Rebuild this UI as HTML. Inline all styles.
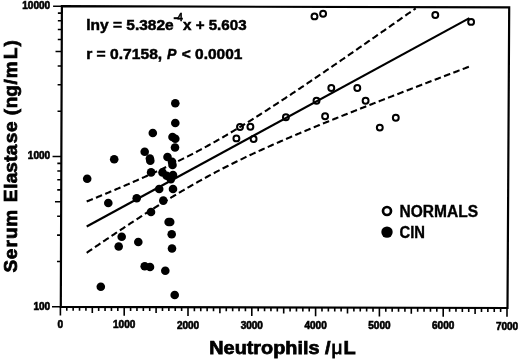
<!DOCTYPE html>
<html><head><meta charset="utf-8"><style>
html,body{margin:0;padding:0;background:#fff;width:520px;height:360px;overflow:hidden}
svg{display:block}
text{font-family:"Liberation Sans",sans-serif;fill:#000}
</style></head><body>
<svg width="520" height="360" viewBox="0 0 520 360"><defs><filter id="b" x="0" y="0" width="100%" height="100%"><feGaussianBlur stdDeviation="0.45"/></filter></defs><g filter="url(#b)"><rect width="520" height="360" fill="#fff"/><path d="M61.9,6.2 L509.2,7.45 L507.5,308.0 L60.8,306.8 Z" fill="none" stroke="#000" stroke-width="2.2" stroke-linejoin="miter"/>
<path d="M60.40,306.80v8.8 M66.78,306.82v4.0 M73.16,306.83v4.0 M79.54,306.85v4.0 M85.92,306.87v4.0 M92.30,306.88v6.0 M98.68,306.90v4.0 M105.06,306.92v4.0 M111.44,306.94v4.0 M117.82,306.95v4.0 M124.20,306.97v8.8 M130.58,306.99v4.0 M136.96,307.00v4.0 M143.34,307.02v4.0 M149.72,307.04v4.0 M156.10,307.06v6.0 M162.48,307.07v4.0 M168.86,307.09v4.0 M175.24,307.11v4.0 M181.62,307.12v4.0 M188.00,307.14v8.8 M194.38,307.16v4.0 M200.76,307.18v4.0 M207.14,307.19v4.0 M213.52,307.21v4.0 M219.90,307.23v6.0 M226.28,307.24v4.0 M232.66,307.26v4.0 M239.04,307.28v4.0 M245.42,307.30v4.0 M251.80,307.31v8.8 M258.18,307.33v4.0 M264.56,307.35v4.0 M270.94,307.36v4.0 M277.32,307.38v4.0 M283.70,307.40v6.0 M290.08,307.42v4.0 M296.46,307.43v4.0 M302.84,307.45v4.0 M309.22,307.47v4.0 M315.60,307.48v8.8 M321.98,307.50v4.0 M328.36,307.52v4.0 M334.74,307.54v4.0 M341.12,307.55v4.0 M347.50,307.57v6.0 M353.88,307.59v4.0 M360.26,307.60v4.0 M366.64,307.62v4.0 M373.02,307.64v4.0 M379.40,307.66v8.8 M385.78,307.67v4.0 M392.16,307.69v4.0 M398.54,307.71v4.0 M404.92,307.72v4.0 M411.30,307.74v6.0 M417.68,307.76v4.0 M424.06,307.78v4.0 M430.44,307.79v4.0 M436.82,307.81v4.0 M443.20,307.83v8.8 M449.58,307.84v4.0 M455.96,307.86v4.0 M462.34,307.88v4.0 M468.72,307.90v4.0 M475.10,307.91v6.0 M481.48,307.93v4.0 M487.86,307.95v4.0 M494.24,307.96v4.0 M500.62,307.98v4.0 M507.00,308.00v8.8 M60.80,306.80h-8.8 M60.97,261.56h-4.0 M61.06,235.09h-4.0 M61.13,216.31h-4.0 M61.18,201.74h-6.2 M61.23,189.84h-4.0 M61.26,179.78h-4.0 M61.30,171.07h-4.0 M61.32,163.38h-4.0 M61.35,156.50h-8.8 M61.52,111.26h-4.0 M61.61,84.79h-4.0 M61.68,66.01h-4.0 M61.73,51.44h-6.2 M61.78,39.54h-4.0 M61.81,29.48h-4.0 M61.85,20.77h-4.0 M61.87,13.08h-4.0 M61.90,6.20h-8.8" stroke="#000" stroke-width="1.6" fill="none"/>
<text x="50.1" y="9.0" font-family="Liberation Sans" font-weight="bold" font-size="10" text-anchor="end" stroke="#000" stroke-width="0.6">10000</text>
<text x="50.1" y="159.3" font-family="Liberation Sans" font-weight="bold" font-size="10" text-anchor="end" stroke="#000" stroke-width="0.6">1000</text>
<text x="50.1" y="310.0" font-family="Liberation Sans" font-weight="bold" font-size="10" text-anchor="end" stroke="#000" stroke-width="0.6">100</text>
<text x="60.40" y="328.30" font-family="Liberation Sans" font-weight="bold" font-size="10" text-anchor="middle" stroke="#000" stroke-width="0.6">0</text>
<text x="124.20" y="328.47" font-family="Liberation Sans" font-weight="bold" font-size="10" text-anchor="middle" stroke="#000" stroke-width="0.6">1000</text>
<text x="188.00" y="328.64" font-family="Liberation Sans" font-weight="bold" font-size="10" text-anchor="middle" stroke="#000" stroke-width="0.6">2000</text>
<text x="251.80" y="328.81" font-family="Liberation Sans" font-weight="bold" font-size="10" text-anchor="middle" stroke="#000" stroke-width="0.6">3000</text>
<text x="315.60" y="328.98" font-family="Liberation Sans" font-weight="bold" font-size="10" text-anchor="middle" stroke="#000" stroke-width="0.6">4000</text>
<text x="379.40" y="329.16" font-family="Liberation Sans" font-weight="bold" font-size="10" text-anchor="middle" stroke="#000" stroke-width="0.6">5000</text>
<text x="443.20" y="329.33" font-family="Liberation Sans" font-weight="bold" font-size="10" text-anchor="middle" stroke="#000" stroke-width="0.6">6000</text>
<text x="507.00" y="329.50" font-family="Liberation Sans" font-weight="bold" font-size="10" text-anchor="middle" stroke="#000" stroke-width="0.6">7000</text>
<text x="-115.79 -102.63 -90.93 -82.47 -70.23 -53.34 -45.55 -32.13 -26.77 -16.13 -5.21 1.28 13.32 24.57 35.14 41.32 48.26 59.94 72.01 78.32 97.25 110.1" y="0" transform="translate(17,156.6) rotate(-90)" font-family="Liberation Sans" font-weight="bold" font-size="19" stroke="#000" stroke-width="0.75">Serum Elastase (ng/mL)</text>
<text x="209.3" y="354" font-family="Liberation Sans" font-weight="bold" font-size="19" stroke="#000" stroke-width="0.75" textLength="121.2" lengthAdjust="spacingAndGlyphs">Neutrophils /</text>
<text x="331.5" y="354" font-family="Liberation Serif" font-size="19" stroke="#000" stroke-width="0.85">&#956;</text>
<text x="343.4" y="354" font-family="Liberation Sans" font-weight="bold" font-size="19" stroke="#000" stroke-width="0.75" textLength="12.2" lengthAdjust="spacingAndGlyphs">L</text>
<text x="86.2" y="30.2" font-family="Liberation Sans" font-weight="bold" stroke="#000" stroke-width="0.5" font-size="15" textLength="87.5" lengthAdjust="spacingAndGlyphs">lny = 5.382e</text>
<rect x="173.7" y="17.2" width="5" height="2"/>
<text x="177.4" y="21.1" font-family="Liberation Sans" font-weight="bold" stroke="#000" stroke-width="0.5" font-size="10.8" textLength="5.2" lengthAdjust="spacingAndGlyphs">4</text>
<text x="183.0" y="30.2" font-family="Liberation Sans" font-weight="bold" stroke="#000" stroke-width="0.5" font-size="15" textLength="63.6" lengthAdjust="spacingAndGlyphs">x + 5.603</text>
<text x="86.2" y="58.8" font-family="Liberation Sans" font-weight="bold" stroke="#000" stroke-width="0.5" font-size="15" textLength="76" lengthAdjust="spacingAndGlyphs">r = 0.7158,</text>
<text x="166.9" y="58.8" font-family="Liberation Sans" font-weight="bold" stroke="#000" stroke-width="0.5" font-size="15" font-style="italic" textLength="9.4" lengthAdjust="spacingAndGlyphs">P</text>
<text x="181.8" y="58.8" font-family="Liberation Sans" font-weight="bold" stroke="#000" stroke-width="0.5" font-size="15" textLength="60.6" lengthAdjust="spacingAndGlyphs">&lt; 0.0001</text>
<circle cx="387" cy="211" r="4" fill="none" stroke="#000" stroke-width="2.7"/>
<circle cx="387" cy="232.1" r="5.7" fill="#000"/>
<text x="399.5" y="216.7" font-family="Liberation Sans" font-weight="bold" font-size="15.6" stroke="#000" stroke-width="0.35" textLength="78.5" lengthAdjust="spacingAndGlyphs">NORMALS</text>
<text x="399.5" y="237.8" font-family="Liberation Sans" font-weight="bold" font-size="15.6" stroke="#000" stroke-width="0.35" textLength="25.5" lengthAdjust="spacingAndGlyphs">CIN</text>
<line x1="86.7" y1="226.55" x2="469.4" y2="18.1" stroke="#000" stroke-width="2.2"/>
<polyline points="86.70,201.50 87.70,201.09 88.70,200.69 89.70,200.28 90.70,199.87 91.70,199.46 92.70,199.05 93.70,198.64 94.70,198.23 95.70,197.82 96.70,197.41 97.70,197.00 98.70,196.58 99.70,196.17 100.70,195.76 101.70,195.34 102.70,194.93 103.70,194.51 104.70,194.10 105.70,193.68 106.70,193.27 107.70,192.85 108.70,192.43 109.70,192.01 110.70,191.59 111.70,191.17 112.70,190.75 113.70,190.33 114.70,189.91 115.70,189.49 116.70,189.07 117.70,188.64 118.70,188.22 119.70,187.79 120.70,187.37 121.70,186.94 122.70,186.52 123.70,186.09 124.70,185.66 125.70,185.23 126.70,184.80 127.70,184.37 128.70,183.94 129.70,183.50 130.70,183.07 131.70,182.64 132.70,182.20 133.70,181.77 134.70,181.33 135.70,180.89 136.70,180.45 137.70,180.01 138.70,179.57 139.70,179.13 140.70,178.69 141.70,178.24 142.70,177.80 143.70,177.35 144.70,176.90 145.70,176.46 146.70,176.01 147.70,175.56 148.70,175.10 149.70,174.65 150.70,174.20 151.70,173.74 152.70,173.29 153.70,172.83 154.70,172.37 155.70,171.91 156.70,171.45 157.70,170.99 158.70,170.52 159.70,170.06 160.70,169.59 161.70,169.12 162.70,168.65 163.70,168.18 164.70,167.71 165.70,167.23 166.70,166.76 167.70,166.28 168.70,165.80 169.70,165.32 170.70,164.84 171.70,164.36 172.70,163.87 173.70,163.39 174.70,162.90 175.70,162.41 176.70,161.92 177.70,161.42 178.70,160.93 179.70,160.43 180.70,159.93 181.70,159.43 182.70,158.93 183.70,158.43 184.70,157.92 185.70,157.42 186.70,156.91 187.70,156.40 188.70,155.88 189.70,155.37 190.70,154.85 191.70,154.33 192.70,153.81 193.70,153.29 194.70,152.77 195.70,152.24 196.70,151.71 197.70,151.18 198.70,150.65 199.70,150.12 200.70,149.58 201.70,149.04 202.70,148.50 203.70,147.96 204.70,147.42 205.70,146.87 206.70,146.32 207.70,145.77 208.70,145.22 209.70,144.67 210.70,144.11 211.70,143.56 212.70,143.00 213.70,142.44 214.70,141.87 215.70,141.31 216.70,140.74 217.70,140.17 218.70,139.60 219.70,139.03 220.70,138.45 221.70,137.88 222.70,137.30 223.70,136.72 224.70,136.14 225.70,135.55 226.70,134.97 227.70,134.38 228.70,133.79 229.70,133.20 230.70,132.61 231.70,132.01 232.70,131.41 233.70,130.82 234.70,130.22 235.70,129.62 236.70,129.01 237.70,128.41 238.70,127.80 239.70,127.19 240.70,126.59 241.70,125.97 242.70,125.36 243.70,124.75 244.70,124.13 245.70,123.52 246.70,122.90 247.70,122.28 248.70,121.66 249.70,121.03 250.70,120.41 251.70,119.79 252.70,119.16 253.70,118.53 254.70,117.90 255.70,117.27 256.70,116.64 257.70,116.01 258.70,115.37 259.70,114.74 260.70,114.10 261.70,113.46 262.70,112.82 263.70,112.18 264.70,111.54 265.70,110.90 266.70,110.26 267.70,109.61 268.70,108.97 269.70,108.32 270.70,107.67 271.70,107.02 272.70,106.37 273.70,105.72 274.70,105.07 275.70,104.42 276.70,103.77 277.70,103.11 278.70,102.46 279.70,101.80 280.70,101.15 281.70,100.49 282.70,99.83 283.70,99.17 284.70,98.51 285.70,97.85 286.70,97.19 287.70,96.53 288.70,95.86 289.70,95.20 290.70,94.53 291.70,93.87 292.70,93.20 293.70,92.54 294.70,91.87 295.70,91.20 296.70,90.53 297.70,89.86 298.70,89.19 299.70,88.52 300.70,87.85 301.70,87.18 302.70,86.51 303.70,85.84 304.70,85.16 305.70,84.49 306.70,83.81 307.70,83.14 308.70,82.46 309.70,81.79 310.70,81.11 311.70,80.43 312.70,79.76 313.70,79.08 314.70,78.40 315.70,77.72 316.70,77.04 317.70,76.36 318.70,75.68 319.70,75.00 320.70,74.32 321.70,73.64 322.70,72.96 323.70,72.27 324.70,71.59 325.70,70.91 326.70,70.22 327.70,69.54 328.70,68.85 329.70,68.17 330.70,67.48 331.70,66.80 332.70,66.11 333.70,65.43 334.70,64.74 335.70,64.05 336.70,63.37 337.70,62.68 338.70,61.99 339.70,61.30 340.70,60.61 341.70,59.93 342.70,59.24 343.70,58.55 344.70,57.86 345.70,57.17 346.70,56.48 347.70,55.79 348.70,55.10 349.70,54.40 350.70,53.71 351.70,53.02 352.70,52.33 353.70,51.64 354.70,50.94 355.70,50.25 356.70,49.56 357.70,48.87 358.70,48.17 359.70,47.48 360.70,46.78 361.70,46.09 362.70,45.40 363.70,44.70 364.70,44.01 365.70,43.31 366.70,42.62 367.70,41.92 368.70,41.23 369.70,40.53 370.70,39.83 371.70,39.14 372.70,38.44 373.70,37.75 374.70,37.05 375.70,36.35 376.70,35.65 377.70,34.96 378.70,34.26 379.70,33.56 380.70,32.86 381.70,32.17 382.70,31.47 383.70,30.77 384.70,30.07 385.70,29.37 386.70,28.67 387.70,27.98 388.70,27.28 389.70,26.58 390.70,25.88 391.70,25.18 392.70,24.48 393.70,23.78 394.70,23.08 395.70,22.38 396.70,21.68 397.70,20.98 398.70,20.28 399.70,19.58 400.70,18.88 401.70,18.17 402.70,17.47 403.70,16.77 404.70,16.07 405.70,15.37 406.70,14.67 407.70,13.97 408.70,13.26 409.70,12.56 410.70,11.86 411.70,11.16 412.70,10.46 413.70,9.75 414.70,9.05 415.70,8.35" fill="none" stroke="#000" stroke-width="2.1" stroke-dasharray="6.6 3.4"/>
<polyline points="86.70,252.79 87.70,252.11 88.70,251.42 89.70,250.74 90.70,250.06 91.70,249.38 92.70,248.70 93.70,248.01 94.70,247.33 95.70,246.65 96.70,245.98 97.70,245.30 98.70,244.62 99.70,243.94 100.70,243.26 101.70,242.59 102.70,241.91 103.70,241.23 104.70,240.56 105.70,239.88 106.70,239.21 107.70,238.54 108.70,237.86 109.70,237.19 110.70,236.52 111.70,235.85 112.70,235.18 113.70,234.51 114.70,233.84 115.70,233.17 116.70,232.50 117.70,231.83 118.70,231.17 119.70,230.50 120.70,229.84 121.70,229.17 122.70,228.51 123.70,227.85 124.70,227.19 125.70,226.52 126.70,225.86 127.70,225.20 128.70,224.55 129.70,223.89 130.70,223.23 131.70,222.57 132.70,221.92 133.70,221.26 134.70,220.61 135.70,219.96 136.70,219.31 137.70,218.66 138.70,218.01 139.70,217.36 140.70,216.71 141.70,216.06 142.70,215.42 143.70,214.77 144.70,214.13 145.70,213.49 146.70,212.84 147.70,212.20 148.70,211.57 149.70,210.93 150.70,210.29 151.70,209.65 152.70,209.02 153.70,208.39 154.70,207.76 155.70,207.12 156.70,206.50 157.70,205.87 158.70,205.24 159.70,204.61 160.70,203.99 161.70,203.37 162.70,202.75 163.70,202.13 164.70,201.51 165.70,200.89 166.70,200.27 167.70,199.66 168.70,199.05 169.70,198.44 170.70,197.83 171.70,197.22 172.70,196.61 173.70,196.01 174.70,195.40 175.70,194.80 176.70,194.20 177.70,193.60 178.70,193.01 179.70,192.41 180.70,191.82 181.70,191.22 182.70,190.63 183.70,190.05 184.70,189.46 185.70,188.87 186.70,188.29 187.70,187.71 188.70,187.13 189.70,186.55 190.70,185.98 191.70,185.40 192.70,184.83 193.70,184.26 194.70,183.69 195.70,183.13 196.70,182.56 197.70,182.00 198.70,181.44 199.70,180.88 200.70,180.32 201.70,179.77 202.70,179.21 203.70,178.66 204.70,178.11 205.70,177.56 206.70,177.02 207.70,176.47 208.70,175.93 209.70,175.39 210.70,174.85 211.70,174.32 212.70,173.78 213.70,173.25 214.70,172.72 215.70,172.19 216.70,171.67 217.70,171.14 218.70,170.62 219.70,170.10 220.70,169.58 221.70,169.06 222.70,168.55 223.70,168.03 224.70,167.52 225.70,167.01 226.70,166.50 227.70,166.00 228.70,165.49 229.70,164.99 230.70,164.49 231.70,163.99 232.70,163.49 233.70,163.00 234.70,162.50 235.70,162.01 236.70,161.52 237.70,161.03 238.70,160.54 239.70,160.06 240.70,159.57 241.70,159.09 242.70,158.61 243.70,158.13 244.70,157.65 245.70,157.17 246.70,156.70 247.70,156.23 248.70,155.75 249.70,155.28 250.70,154.81 251.70,154.35 252.70,153.88 253.70,153.41 254.70,152.95 255.70,152.49 256.70,152.03 257.70,151.57 258.70,151.11 259.70,150.65 260.70,150.19 261.70,149.74 262.70,149.29 263.70,148.83 264.70,148.38 265.70,147.93 266.70,147.48 267.70,147.04 268.70,146.59 269.70,146.14 270.70,145.70 271.70,145.25 272.70,144.81 273.70,144.37 274.70,143.93 275.70,143.49 276.70,143.05 277.70,142.61 278.70,142.18 279.70,141.74 280.70,141.31 281.70,140.87 282.70,140.44 283.70,140.01 284.70,139.57 285.70,139.14 286.70,138.71 287.70,138.29 288.70,137.86 289.70,137.43 290.70,137.00 291.70,136.58 292.70,136.15 293.70,135.73 294.70,135.30 295.70,134.88 296.70,134.46 297.70,134.04 298.70,133.62 299.70,133.20 300.70,132.78 301.70,132.36 302.70,131.94 303.70,131.52 304.70,131.11 305.70,130.69 306.70,130.27 307.70,129.86 308.70,129.44 309.70,129.03 310.70,128.62 311.70,128.20 312.70,127.79 313.70,127.38 314.70,126.97 315.70,126.56 316.70,126.14 317.70,125.74 318.70,125.33 319.70,124.92 320.70,124.51 321.70,124.10 322.70,123.69 323.70,123.29 324.70,122.88 325.70,122.47 326.70,122.07 327.70,121.66 328.70,121.26 329.70,120.85 330.70,120.45 331.70,120.04 332.70,119.64 333.70,119.24 334.70,118.84 335.70,118.43 336.70,118.03 337.70,117.63 338.70,117.23 339.70,116.83 340.70,116.43 341.70,116.03 342.70,115.63 343.70,115.23 344.70,114.83 345.70,114.43 346.70,114.03 347.70,113.63 348.70,113.24 349.70,112.84 350.70,112.44 351.70,112.04 352.70,111.65 353.70,111.25 354.70,110.85 355.70,110.46 356.70,110.06 357.70,109.67 358.70,109.27 359.70,108.88 360.70,108.48 361.70,108.09 362.70,107.69 363.70,107.30 364.70,106.91 365.70,106.51 366.70,106.12 367.70,105.73 368.70,105.33 369.70,104.94 370.70,104.55 371.70,104.16 372.70,103.77 373.70,103.37 374.70,102.98 375.70,102.59 376.70,102.20 377.70,101.81 378.70,101.42 379.70,101.03 380.70,100.64 381.70,100.25 382.70,99.86 383.70,99.47 384.70,99.08 385.70,98.69 386.70,98.30 387.70,97.91 388.70,97.53 389.70,97.14 390.70,96.75 391.70,96.36 392.70,95.97 393.70,95.58 394.70,95.20 395.70,94.81 396.70,94.42 397.70,94.03 398.70,93.65 399.70,93.26 400.70,92.87 401.70,92.49 402.70,92.10 403.70,91.71 404.70,91.33 405.70,90.94 406.70,90.56 407.70,90.17 408.70,89.78 409.70,89.40 410.70,89.01 411.70,88.63 412.70,88.24 413.70,87.86 414.70,87.47 415.70,87.09 416.70,86.70 417.70,86.32 418.70,85.93 419.70,85.55 420.70,85.17 421.70,84.78 422.70,84.40 423.70,84.01 424.70,83.63 425.70,83.25 426.70,82.86 427.70,82.48 428.70,82.10 429.70,81.71 430.70,81.33 431.70,80.95 432.70,80.56 433.70,80.18 434.70,79.80 435.70,79.42 436.70,79.03 437.70,78.65 438.70,78.27 439.70,77.89 440.70,77.50 441.70,77.12 442.70,76.74 443.70,76.36 444.70,75.98 445.70,75.60 446.70,75.21 447.70,74.83 448.70,74.45 449.70,74.07 450.70,73.69 451.70,73.31 452.70,72.93 453.70,72.54 454.70,72.16 455.70,71.78 456.70,71.40 457.70,71.02 458.70,70.64 459.70,70.26 460.70,69.88 461.70,69.50 462.70,69.12 463.70,68.74 464.70,68.36 465.70,67.98 466.70,67.60 467.70,67.22 468.70,66.84 469.70,66.46" fill="none" stroke="#000" stroke-width="2.1" stroke-dasharray="6.6 3.4"/>
<circle cx="175.3" cy="103.3" r="4.3" fill="#000"/>
<circle cx="175.3" cy="123" r="4.3" fill="#000"/>
<circle cx="152.8" cy="133" r="4.3" fill="#000"/>
<circle cx="172.5" cy="137" r="4.3" fill="#000"/>
<circle cx="175.3" cy="138.7" r="4.3" fill="#000"/>
<circle cx="175" cy="147.5" r="4.3" fill="#000"/>
<circle cx="144.7" cy="151.8" r="4.3" fill="#000"/>
<circle cx="149.9" cy="158.6" r="4.3" fill="#000"/>
<circle cx="150.3" cy="160.8" r="4.3" fill="#000"/>
<circle cx="167.5" cy="157" r="4.3" fill="#000"/>
<circle cx="172" cy="161.7" r="4.3" fill="#000"/>
<circle cx="172.5" cy="165" r="4.3" fill="#000"/>
<circle cx="114.2" cy="159.2" r="4.3" fill="#000"/>
<circle cx="87.2" cy="178.7" r="4.3" fill="#000"/>
<circle cx="151.1" cy="172.4" r="4.3" fill="#000"/>
<circle cx="162.5" cy="172.5" r="4.3" fill="#000"/>
<circle cx="166.7" cy="175.8" r="4.3" fill="#000"/>
<circle cx="173" cy="175" r="4.3" fill="#000"/>
<circle cx="170.8" cy="179.2" r="4.3" fill="#000"/>
<circle cx="159.2" cy="189" r="4.3" fill="#000"/>
<circle cx="173" cy="189" r="4.3" fill="#000"/>
<circle cx="136.7" cy="198.2" r="4.3" fill="#000"/>
<circle cx="163.3" cy="200.6" r="4.3" fill="#000"/>
<circle cx="108.3" cy="203" r="4.3" fill="#000"/>
<circle cx="151.0" cy="212" r="4.3" fill="#000"/>
<circle cx="168.6" cy="222" r="4.3" fill="#000"/>
<circle cx="170.2" cy="222" r="4.3" fill="#000"/>
<circle cx="171.7" cy="234.2" r="4.3" fill="#000"/>
<circle cx="138.3" cy="242" r="4.3" fill="#000"/>
<circle cx="172" cy="248.5" r="4.3" fill="#000"/>
<circle cx="121.7" cy="236.7" r="4.3" fill="#000"/>
<circle cx="118.7" cy="246.5" r="4.3" fill="#000"/>
<circle cx="144.7" cy="266.3" r="4.3" fill="#000"/>
<circle cx="150" cy="267" r="4.3" fill="#000"/>
<circle cx="165.3" cy="270.8" r="4.3" fill="#000"/>
<circle cx="100.8" cy="286.7" r="4.3" fill="#000"/>
<circle cx="174.7" cy="295" r="4.3" fill="#000"/>
<circle cx="236.4" cy="138.4" r="2.95" fill="none" stroke="#000" stroke-width="2"/>
<circle cx="240" cy="127" r="2.95" fill="none" stroke="#000" stroke-width="2"/>
<circle cx="250.4" cy="126.7" r="2.95" fill="none" stroke="#000" stroke-width="2"/>
<circle cx="253.6" cy="139" r="2.95" fill="none" stroke="#000" stroke-width="2"/>
<circle cx="285.9" cy="117.3" r="2.95" fill="none" stroke="#000" stroke-width="2"/>
<circle cx="316.5" cy="100.8" r="2.95" fill="none" stroke="#000" stroke-width="2"/>
<circle cx="325.1" cy="116.2" r="2.95" fill="none" stroke="#000" stroke-width="2"/>
<circle cx="331.3" cy="88" r="2.95" fill="none" stroke="#000" stroke-width="2"/>
<circle cx="357.3" cy="88" r="2.95" fill="none" stroke="#000" stroke-width="2"/>
<circle cx="365.6" cy="100.7" r="2.95" fill="none" stroke="#000" stroke-width="2"/>
<circle cx="379.8" cy="127.6" r="2.95" fill="none" stroke="#000" stroke-width="2"/>
<circle cx="395.8" cy="117.8" r="2.95" fill="none" stroke="#000" stroke-width="2"/>
<circle cx="314.5" cy="16.4" r="2.95" fill="none" stroke="#000" stroke-width="2"/>
<circle cx="323.1" cy="13.8" r="2.95" fill="none" stroke="#000" stroke-width="2"/>
<circle cx="435.3" cy="15.0" r="2.95" fill="none" stroke="#000" stroke-width="2"/>
<circle cx="471.1" cy="21.9" r="2.95" fill="none" stroke="#000" stroke-width="2"/></g></svg>
</body></html>
